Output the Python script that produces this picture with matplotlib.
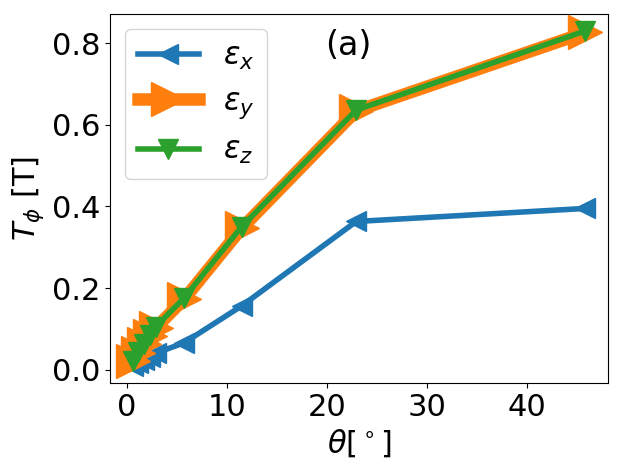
import numpy as np
import matplotlib
matplotlib.use('Agg')
import matplotlib.pyplot as plt

# angles in degrees and torque values for each strain direction
theta = [0.573, 1.146, 1.719, 2.292, 2.865, 5.73, 11.46, 22.92, 45.84]
t_ex = [0.008, 0.016, 0.024, 0.032, 0.040, 0.066, 0.156, 0.363, 0.395]
t_ey = [0.021, 0.042, 0.063, 0.083, 0.102, 0.173, 0.346, 0.634, 0.826]
t_ez = [0.022, 0.043, 0.064, 0.085, 0.105, 0.176, 0.350, 0.636, 0.830]

plt.rcParams['font.size'] = 22

fig = plt.figure(figsize=(6.18, 4.69), dpi=100)
ax = fig.add_axes([0.178, 0.183, 0.806, 0.787])

ax.plot(theta, t_ex, '<-', color='tab:blue', lw=4, ms=15, label=r'$\epsilon_x$')
ax.plot(theta, t_ey, '>-', color='tab:orange', lw=9, ms=24, label=r'$\epsilon_y$')
ax.plot(theta, t_ez, 'v-', color='tab:green', lw=4, ms=14, label=r'$\epsilon_z$')

ax.set_xlabel(r'$\theta[^\circ]$')
ax.set_ylabel(r'$T_\phi$ [T]')
ax.set_xticks([0, 10, 20, 30, 40])
ax.set_yticks([0.0, 0.2, 0.4, 0.6, 0.8])
ax.text(0.478, 0.916, '(a)', transform=ax.transAxes, ha='center', va='center', fontsize=24)
ax.legend(loc='upper left', fontsize=22)

fig.savefig('out.png', dpi=100)
